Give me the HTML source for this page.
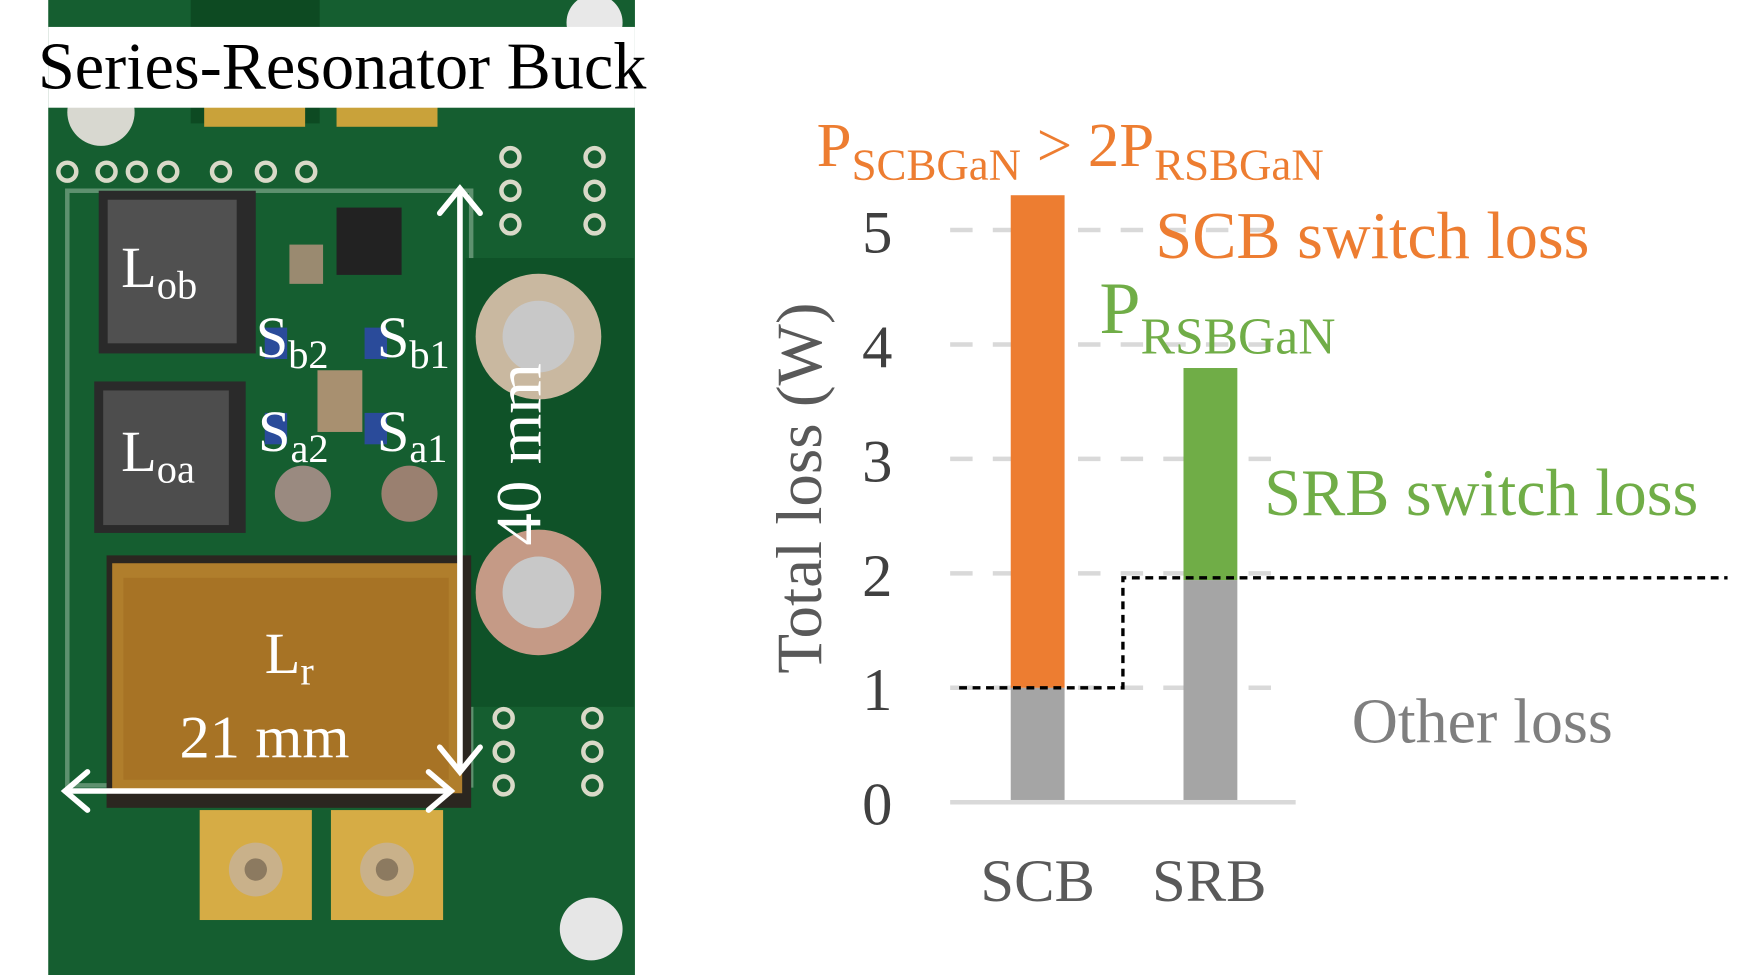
<!DOCTYPE html>
<html><head><style>
html,body{margin:0;padding:0;background:#fff;width:1750px;height:975px;overflow:hidden}
svg{display:block}
text{font-family:"Liberation Serif",serif}
</style></head><body>
<svg width="1750" height="975" viewBox="0 0 1560 869" preserveAspectRatio="none">
<rect width="1560" height="869" fill="#fff"/>
<rect x="43" y="0" width="523" height="872" fill="#155e30"/>
<rect x="60" y="170" width="360" height="530" fill="none" stroke="#8fb49a" stroke-width="4" opacity="0.6"/>
<rect x="415" y="230" width="150" height="400" fill="#0f5228"/>
<rect x="170" y="0" width="115" height="110" fill="#0d4a22"/>
<rect x="182" y="95" width="90" height="18" fill="#c9a23a"/>
<rect x="300" y="95" width="90" height="18" fill="#c9a23a"/>
<circle cx="90" cy="100" r="30" fill="#d8d8d0"/>
<circle cx="530" cy="20" r="25" fill="#e8e8e8"/>
<g fill="none" stroke="#d9d9c8" stroke-width="4">
<circle cx="60" cy="153" r="8"/><circle cx="95" cy="153" r="8"/><circle cx="122" cy="153" r="8"/><circle cx="150" cy="153" r="8"/><circle cx="197" cy="153" r="8"/><circle cx="237" cy="153" r="8"/><circle cx="273" cy="153" r="8"/>
<circle cx="455" cy="140" r="8"/><circle cx="455" cy="170" r="8"/><circle cx="455" cy="200" r="8"/>
<circle cx="530" cy="140" r="8"/><circle cx="530" cy="170" r="8"/><circle cx="530" cy="200" r="8"/>
<circle cx="449" cy="640" r="8"/><circle cx="449" cy="670" r="8"/><circle cx="449" cy="700" r="8"/>
<circle cx="528" cy="640" r="8"/><circle cx="528" cy="670" r="8"/><circle cx="528" cy="700" r="8"/>
</g>
<circle cx="527" cy="828" r="28" fill="#e6e6e6"/>
<circle cx="480" cy="300" r="56" fill="#c9b8a0"/><circle cx="480" cy="300" r="32" fill="#c8c8c8"/>
<circle cx="480" cy="528" r="56" fill="#c59a86"/><circle cx="480" cy="528" r="32" fill="#c8c8c8"/>
<rect x="88" y="170" width="140" height="145" fill="#2a2a2a"/>
<rect x="96" y="178" width="115" height="128" fill="#505050"/>
<rect x="84" y="340" width="135" height="135" fill="#2a2a2a"/>
<rect x="92" y="348" width="112" height="120" fill="#4d4d4d"/>
<rect x="300" y="185" width="58" height="60" fill="#222"/>
<rect x="258" y="218" width="30" height="35" fill="#9a8a70"/>
<rect x="283" y="330" width="40" height="55" fill="#a89070"/>
<rect x="236" y="292" width="20" height="28" fill="#2a4b9a"/><rect x="325" y="292" width="20" height="28" fill="#2a4b9a"/>
<rect x="236" y="368" width="20" height="28" fill="#2a4b9a"/><rect x="325" y="368" width="20" height="28" fill="#2a4b9a"/>
<ellipse cx="270" cy="440" rx="25" ry="25" fill="#9a8a80"/><ellipse cx="365" cy="440" rx="25" ry="25" fill="#9a8070"/>
<rect x="95" y="495" width="325" height="225" fill="#2b2620"/>
<rect x="100" y="502" width="312" height="205" fill="#b07e2c"/>
<rect x="110" y="515" width="290" height="180" fill="#a46f22" opacity="0.7"/>
<rect x="178" y="722" width="100" height="98" fill="#d6ac45"/>
<rect x="295" y="722" width="100" height="98" fill="#d6ac45"/>
<circle cx="228" cy="775" r="24" fill="#c9b18a"/><circle cx="345" cy="775" r="24" fill="#c9b18a"/>
<circle cx="228" cy="775" r="10" fill="#8c7a60"/><circle cx="345" cy="775" r="10" fill="#8c7a60"/>
<rect x="43" y="24" width="523" height="72" fill="#fff"/>
<text x="305" y="79" font-size="59" text-anchor="middle" fill="#000">Series-Resonator Buck</text>
<g stroke="#fff" stroke-width="5" fill="none" stroke-linecap="round">
<line x1="410" y1="170" x2="410" y2="686"/>
<polyline points="392,190 410,168 428,190"/>
<polyline points="392,666 410,688 428,666"/>
<line x1="58" y1="705" x2="402" y2="705"/>
<polyline points="78,688 58,705 78,722"/>
<polyline points="382,688 402,705 382,722"/>
</g>
<g fill="#fff" font-size="52">
<text x="108" y="256">L<tspan font-size="36" dy="10">ob</tspan></text>
<text x="228" y="318">S<tspan font-size="36" dy="10">b2</tspan></text>
<text x="336" y="318">S<tspan font-size="36" dy="10">b1</tspan></text>
<text x="230" y="402">S<tspan font-size="36" dy="10">a2</tspan></text>
<text x="336" y="402">S<tspan font-size="36" dy="10">a1</tspan></text>
<text x="108" y="420">L<tspan font-size="36" dy="10">oa</tspan></text>
<text x="236" y="600">L<tspan font-size="36" dy="10">r</tspan></text>
<text x="160" y="675" font-size="54">21 mm</text>
<text transform="translate(482,405) rotate(-90)" text-anchor="middle" font-size="58">40 mm</text>
</g>
<g stroke="#d9d9d9" stroke-width="4" stroke-dasharray="20,18">
<line x1="847" y1="205" x2="1142" y2="205"/>
<line x1="847" y1="307" x2="1142" y2="307"/>
<line x1="847" y1="409" x2="1142" y2="409"/>
<line x1="847" y1="511" x2="1142" y2="511"/>
<line x1="847" y1="613" x2="1142" y2="613"/>
</g>
<line x1="847" y1="715" x2="1155" y2="715" stroke="#d9d9d9" stroke-width="4"/>
<rect x="901" y="613" width="48" height="100" fill="#a5a5a5"/>
<rect x="901" y="174" width="48" height="439" fill="#ed7d31"/>
<rect x="1055" y="517" width="48" height="196" fill="#a5a5a5"/>
<rect x="1055" y="328" width="48" height="189" fill="#70ad47"/>
<polyline points="855,613 1001,613 1001,515 1540,515" fill="none" stroke="#000" stroke-width="3" stroke-dasharray="7,5"/>
<g fill="#404040" font-size="54" text-anchor="middle">
<text x="782" y="735">0</text><text x="782" y="633">1</text><text x="782" y="531">2</text>
<text x="782" y="429">3</text><text x="782" y="327">4</text><text x="782" y="225">5</text>
</g>
<text transform="translate(732,435) rotate(-90)" text-anchor="middle" font-size="58" fill="#595959">Total loss (W)</text>
<text x="925" y="803" text-anchor="middle" font-size="54" fill="#595959">SCB</text>
<text x="1078" y="803" text-anchor="middle" font-size="54" fill="#595959">SRB</text>
<text x="728" y="148" font-size="56" fill="#ed7d31">P<tspan font-size="40" dy="12">SCBGaN</tspan><tspan dy="-12"> &gt; 2P</tspan><tspan font-size="40" dy="12">RSBGaN</tspan></text>
<text x="1030" y="230" font-size="59" fill="#ed7d31">SCB switch loss</text>
<text x="980" y="297" font-size="66" fill="#70ad47">P<tspan font-size="46" dy="18">RSBGaN</tspan></text>
<text x="1127" y="459" font-size="59" fill="#70ad47">SRB switch loss</text>
<text x="1205" y="662" font-size="57" fill="#7f7f7f">Other loss</text>
</svg>
</body></html>
